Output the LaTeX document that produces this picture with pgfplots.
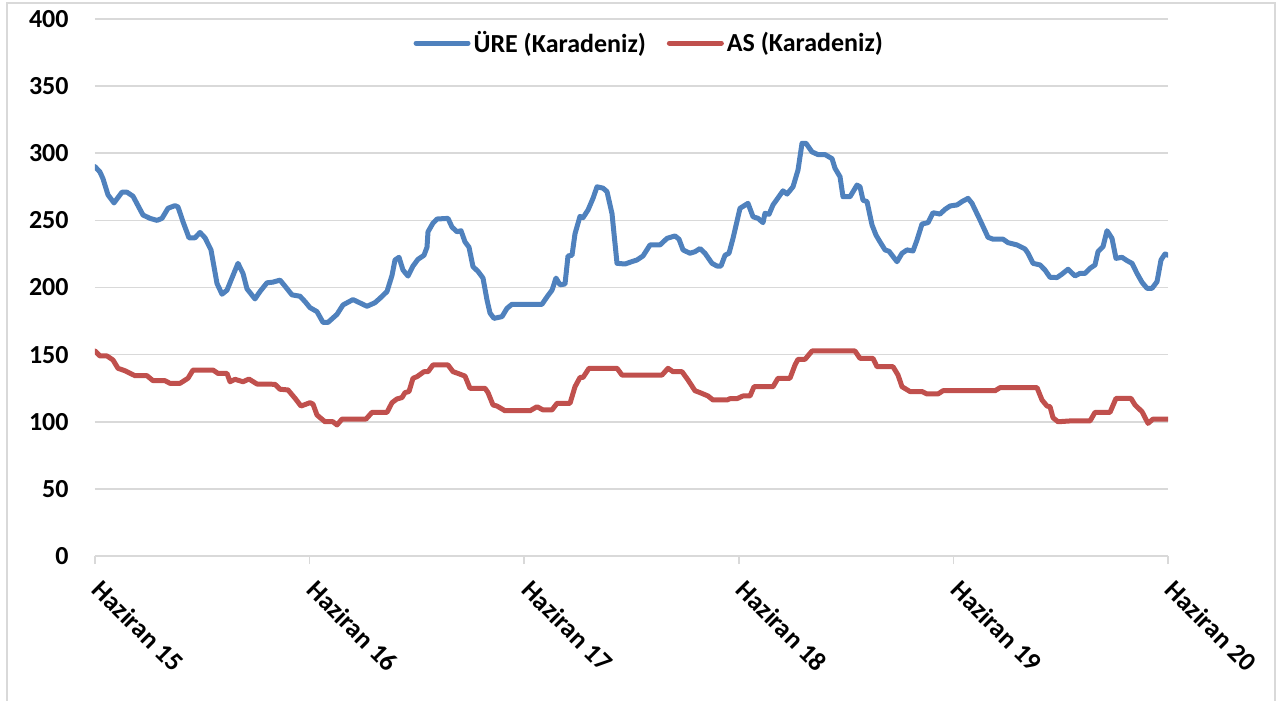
\documentclass[border=0pt]{standalone}
\usepackage{pgfplots}
\pgfplotsset{compat=1.18}
\usepackage{fontspec}
\setmainfont{Carlito}
\definecolor{ureblue}{HTML}{4F81BD}
\definecolor{asred}{HTML}{C0504D}
\definecolor{gridgray}{HTML}{D9D9D9}
\begin{document}
\begin{tikzpicture}
\path[use as bounding box] (-47.5pt,-72pt) rectangle (591pt,278pt);
\draw[gridgray, line width=0.8pt] (-44pt,-73pt) -- (-44pt,276.5pt) -- (590pt,276.5pt) -- (590pt,-73pt);
\begin{axis}[
  scale only axis,
  width=536.5pt, height=268.5pt,
  xmin=0, xmax=1073, ymin=0, ymax=400,
  ytick={0,50,...,400},
  xtick={0,214.6,429.2,643.8,858.4,1073},
  xticklabels={Haziran 15,Haziran 16,Haziran 17,Haziran 18,Haziran 19,Haziran 20},
  axis x line*=bottom, axis y line*=left,
  y axis line style={draw=none},
  x axis line style={draw=gridgray, line width=0.8pt},
  ymajorgrids,
  grid style={draw=gridgray, line width=0.8pt},
  tick align=outside,
  major tick length=4pt,
  xtick style={draw=gridgray, line width=0.8pt},
  ytick style={draw=none},
  /pgf/number format/assume math mode=true,
  yticklabel style={font=\fontsize{13}{15}\selectfont\bfseries, anchor=east, inner sep=0pt, xshift=-9pt},
  xticklabel style={font=\fontsize{13.2}{16}\selectfont\bfseries, xshift=4.5pt, yshift=1pt, rotate=-45, anchor=north west, inner sep=0pt},
  xticklabel shift=8pt,
  legend style={at={(0.517,0.955)}, anchor=center, draw=none, fill=none,
    font=\fontsize{13}{15}\selectfont\bfseries,
    nodes={inner sep=1.5pt},
    /tikz/every even column/.append style={column sep=9pt}},
  legend columns=2,
  legend image code/.code={\draw[#1, line cap=round] (0pt,0pt) -- (26pt,0pt);},
  every axis plot/.append style={line width=2.5pt, line join=round, line cap=round},
]
\addplot[ureblue] coordinates {
(0,290)(5,286)(8,281)(13,269)(19,263)(27,271)(32,271)(38,268)(43,261)(48,254)
(55,251.5)(62,250)(67,251.5)(73,259)(80,261)(83,260)(88,249)(94,237)(100,237)(105,241)
(110,237)(116,228)(122,203)(127,195)(132,198)(138,209)(143,218)(148,210.5)(152,199)(160,191.5)
(165,197)(172,203.5)(178,204)(185,205.5)(190,201)(197,194.5)(205,193.5)(210,189.5)(215,185)(222,182)
(228,174)(233,174)(242,180)(248,187)(258,191)(265,188.5)(272,186)(280,188.7)(285,192)(292,197)
(297,209)(300,220.5)(304,222.5)(308,213)(313,208.5)(318,216)(323,221)(329,224)(332,230)(333,241.5)
(338,248)(342,251)(353,251.5)(357,245)(362,241.5)(366,242.3)(370,234)(374,230)(378,215.5)(383,212)
(388,207)(392,190.7)(395,181)(399,177)(407,178.3)(412,184.5)(417,187.5)(447,187.5)(452,193)(457,198)
(461,207)(465,202)(470,202.6)(473,223.5)(477,224)(480,240)(485,253)(488,252)(493,257.7)(498,266.4)
(502,275)(508,274)(512,271.4)(517,255)(522,218)(530,217.5)(537,219.3)(542,220.5)(548,223.5)(555,231.7)
(565,231.7)(572,236.6)(580,238.4)(584,236)(588,228)(595,225.5)(600,226.7)(605,229)(610,225.5)(617,218)
(622,216)(626,216)(630,224)(634,225.5)(638,236.6)(645,259)(653,262.7)(658,252.7)(663,251.5)(668,248.3)
(670,255.3)(674,254.5)(678,261.5)(688,272)(692,269.6)(698,275)(703,287.5)(707,307.4)(711,307.4)(717,301)
(723,299)(730,299)(737,296)(740,288.8)(745,282.5)(748,267.6)(755,267.6)(762,276.3)(765,275)(768,265)
(772,264)(777,246.6)(781,239)(785,234)(790,228)(794,227)(802,219.2)(807,225.5)(812,228)(818,227.2)
(822,235.4)(827,247.3)(833,248.3)(838,255.7)(845,254.7)(850,258.2)(855,260.7)(862,261.5)(867,264)(873,266.4)
(877,262.7)(885,250.3)(893,237.4)(898,236)(908,236)(913,233.4)(922,231.7)(930,228.7)(933,225.5)(938,218)
(945,216.8)(950,213)(955,207.6)(962,207.4)(967,210)(973,213.6)(980,208.6)(985,210.5)(990,210.5)(995,214.3)
(1000,216.8)(1003,226.7)(1008,230.4)(1012,242.3)(1017,236.6)(1021,221.7)(1027,222.5)(1032,220)(1037,218)(1042,210.5)
(1047,203.9)(1052,199.4)(1057,199.4)(1062,204.3)(1066,220.5)(1070,225)(1073,224)
};
\addlegendentry{ÜRE (Karadeniz)}
\addplot[asred] coordinates {
(0,152.7)(5,149)(12,149)(18,146)(23,139.8)(30,138)(40,134.3)(52,134.3)(58,130.6)(70,130.6)
(75,128.6)(85,128.6)(93,132.4)(98,138.5)(118,138.5)(123,136)(132,136)(135,129.8)(140,131.6)(148,129.8)
(154,131.8)(162,128.1)(180,127.9)(185,124.2)(193,123.7)(200,117.5)(206,111.7)(215,114.2)(218,113.2)(222,105)
(230,100)(238,100)(242,97.6)(247,102)(271,102)(277,107)(292,107)(297,114.2)(302,117)(307,118)
(310,121.7)(314,122.5)(318,132.4)(322,133.6)(329,137.3)(333,137.3)(338,142.3)(353,142.3)(358,137.3)(363,136)
(370,134)(375,124.9)(390,124.9)(393,121.7)(398,112.5)(402,111.7)(410,108.2)(435,108.2)(442,111.2)(448,108.8)
(457,108.8)(462,113.7)(475,113.7)(480,126.1)(485,133)(488,133)(494,139.8)(522,139.8)(527,134.8)(567,134.8)
(573,139.8)(578,137.3)(587,137.3)(593,131.1)(600,123.1)(605,121.7)(613,119.2)(618,116.2)(632,116.2)(635,117.2)
(642,117.2)(648,119.2)(655,119.2)(659,126.1)(678,126.1)(683,132.4)(695,132.4)(700,142.3)(703,146.5)(710,146.5)
(717,152.7)(760,152.7)(765,147.2)(778,147.2)(782,141)(798,141)(803,134.8)(807,126.1)(815,122.5)(827,122.5)
(832,120.7)(843,120.7)(848,123.1)(900,123.1)(905,125.4)(942,125.4)(947,116.2)(952,111.7)(955,111.2)(958,103)
(963,100)(975,100.6)(995,100.6)(1000,107)(1015,107)(1021,117.4)(1036,117.4)(1040,112.5)(1047,107.5)(1053,98.8)
(1058,102)(1073,102)
};
\addlegendentry{AS (Karadeniz)}
\end{axis}
\end{tikzpicture}
\end{document}
